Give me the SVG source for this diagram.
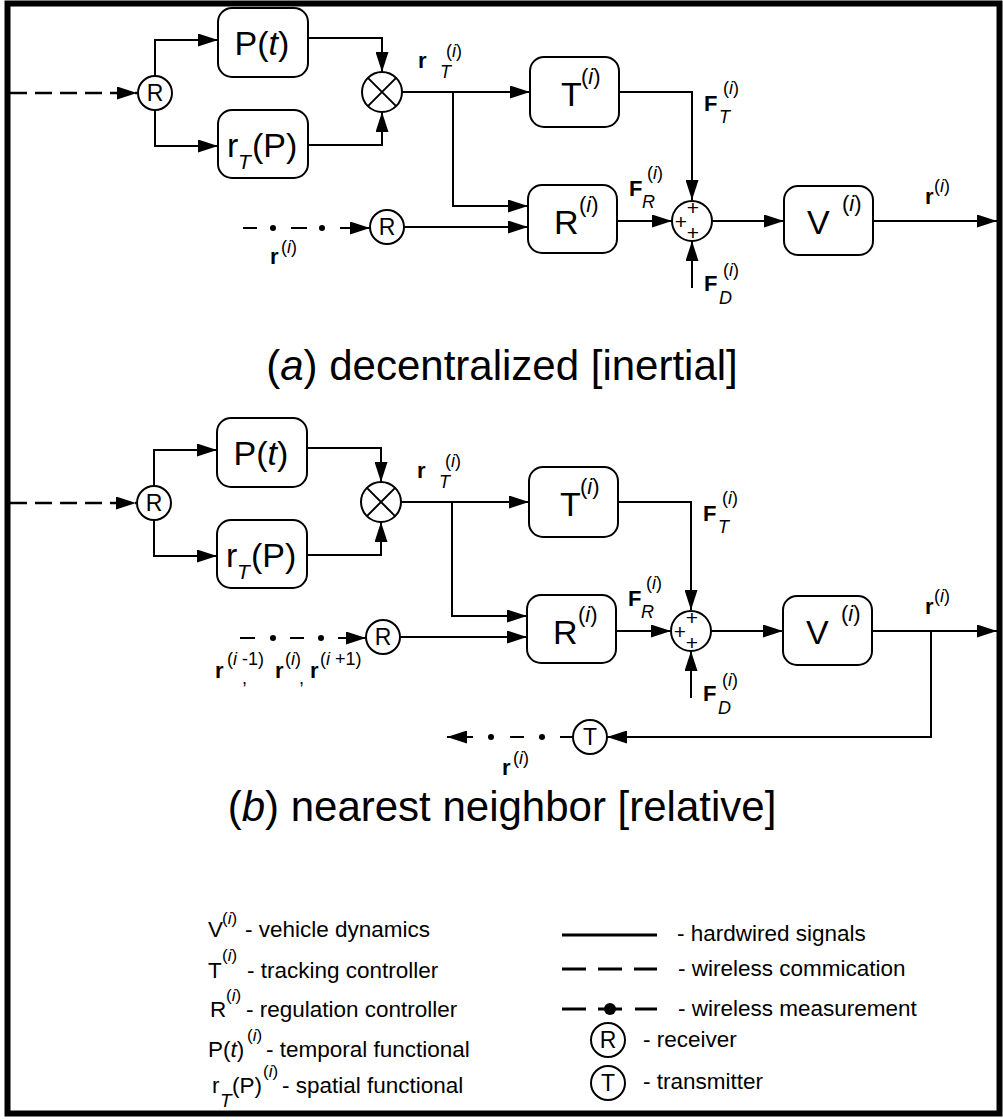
<svg xmlns="http://www.w3.org/2000/svg" width="1003" height="1120" viewBox="0 0 1003 1120">
<style>
text{font-family:"Liberation Sans",Arial,sans-serif;fill:#000}
.box{fill:#fff;stroke:#000;stroke-width:2}
.cir{fill:#fff;stroke:#000;stroke-width:2}
.w{fill:none;stroke:#000;stroke-width:2}
.dash{fill:none;stroke:#000;stroke-width:2.5;stroke-dasharray:17 8}
.big{font-size:34px}
.bsup{font-size:22px}
.cl{font-size:23px;text-anchor:middle}
.lb{font-size:22px;font-weight:bold}
.sup{font-size:18px}
.sub{font-size:18px;font-style:italic}
.it{font-style:italic}
.pl{font-size:21px;text-anchor:middle}
.cap{font-size:42px;text-anchor:middle}
.lg{font-size:22.5px}
.lgs{font-size:17px}
</style>
<defs>
<marker id="ah" markerWidth="20" markerHeight="13" refX="20" refY="6.5" orient="auto" markerUnits="userSpaceOnUse"><path d="M0,0 L20,6.5 L0,13 z" fill="#000"/></marker>
</defs>
<rect x="7.5" y="3.5" width="992" height="1110" fill="#fff" stroke="#000" stroke-width="6"/>

<!-- ===== Part (a) ===== -->
<g id="part-a">
<g id="connectors-a">
<line class="dash" x1="10" y1="93" x2="137" y2="93" marker-end="url(#ah)"/>
<polyline class="w" points="155,76 155,40 218,40" marker-end="url(#ah)"/>
<polyline class="w" points="155,110 155,146 218,146" marker-end="url(#ah)"/>
<polyline class="w" points="308,38 382,38 382,72" marker-end="url(#ah)"/>
<polyline class="w" points="308,145 382,145 382,112" marker-end="url(#ah)"/>
<line class="w" x1="402" y1="92" x2="530" y2="92" marker-end="url(#ah)"/>
<polyline class="w" points="453,92 453,206 528,206" marker-end="url(#ah)"/>
<line class="w" x1="404" y1="227" x2="528" y2="227" marker-end="url(#ah)"/>
<line class="w" x1="243" y1="228" x2="257" y2="228"/>
<circle cx="273" cy="228" r="3"/>
<line class="w" x1="291" y1="228" x2="307" y2="228"/>
<circle cx="322" cy="228" r="3"/>
<line class="w" x1="340" y1="228" x2="370" y2="228" marker-end="url(#ah)"/>
<polyline class="w" points="619,92 692,92 692,200" marker-end="url(#ah)"/>
<line class="w" x1="617" y1="221" x2="672" y2="221" marker-end="url(#ah)"/>
<line class="w" x1="692" y1="288" x2="692" y2="241" marker-end="url(#ah)"/>
<line class="w" x1="712" y1="221" x2="784" y2="221" marker-end="url(#ah)"/>
<line class="w" x1="873" y1="221" x2="997" y2="221" marker-end="url(#ah)"/>
</g>
<g id="a-recv1"><circle class="cir" cx="155" cy="93" r="17"/><text class="cl" x="155" y="101">R</text></g>
<g id="a-P"><rect class="box" x="218" y="8" width="90" height="69" rx="14"/><text class="big" x="262" y="55" text-anchor="middle">P(<tspan class="it">t</tspan>)</text></g>
<g id="a-rT"><rect class="box" x="218" y="110" width="90" height="68" rx="14"/><text class="big" x="227" y="157">r</text><text class="sub" x="238" y="169" style="font-size:21px">T</text><text class="big" x="252" y="157">(P)</text></g>
<g id="a-mult"><circle class="cir" cx="382" cy="92" r="20"/><path class="w" d="M367.9,77.9 L396.1,106.1 M396.1,77.9 L367.9,106.1"/></g>
<g id="a-T"><rect class="box" x="530" y="57" width="89" height="70" rx="14"/><text class="big" x="561" y="106">T</text><text class="bsup" x="581" y="84">(<tspan class="it">i</tspan>)</text></g>
<g id="a-R"><rect class="box" x="528" y="185" width="89" height="68" rx="14"/><text class="big" x="554" y="234">R</text><text class="bsup" x="579" y="212">(<tspan class="it">i</tspan>)</text></g>
<g id="a-recv2"><circle class="cir" cx="387" cy="227" r="17"/><text class="cl" x="387" y="235">R</text></g>
<g id="a-sum"><circle class="cir" cx="692" cy="221" r="20"/><text class="pl" x="693" y="215">+</text><text class="pl" x="681" y="229">+</text><text class="pl" x="693" y="240">+</text></g>
<g id="a-V"><rect class="box" x="784" y="186" width="89" height="69" rx="14"/><text class="big" x="807" y="234">V</text><text class="bsup" x="842" y="211">(<tspan class="it">i</tspan>)</text></g>
<g id="a-labels">
<text class="lb" x="418" y="68">r</text><text class="sup" x="446" y="57">(<tspan class="it">i</tspan>)</text><text class="sub" x="440" y="78">T</text>
<text class="lb" x="704" y="111">F</text><text class="sup" x="723" y="94">(<tspan class="it">i</tspan>)</text><text class="sub" x="719" y="123">T</text>
<text class="lb" x="629" y="196">F</text><text class="sup" x="647" y="179">(<tspan class="it">i</tspan>)</text><text class="sub" x="642" y="208">R</text>
<text class="lb" x="704" y="291">F</text><text class="sup" x="723" y="276">(<tspan class="it">i</tspan>)</text><text class="sub" x="719" y="304">D</text>
<text class="lb" x="925" y="204">r</text><text class="sup" x="934" y="192">(<tspan class="it">i</tspan>)</text>
<text class="lb" x="270" y="264">r</text><text class="sup" x="281" y="253">(<tspan class="it">i</tspan>)</text>
</g>
<text class="cap" x="502" y="380">(<tspan class="it">a</tspan>) decentralized [inertial]</text>
</g>

<!-- ===== Part (b) ===== -->
<g id="part-b">
<g id="connectors-b" transform="translate(-1,410)">
<line class="dash" x1="11" y1="93" x2="137" y2="93" marker-end="url(#ah)"/>
<polyline class="w" points="155,76 155,40 218,40" marker-end="url(#ah)"/>
<polyline class="w" points="155,110 155,146 218,146" marker-end="url(#ah)"/>
<polyline class="w" points="308,38 382,38 382,72" marker-end="url(#ah)"/>
<polyline class="w" points="308,145 382,145 382,112" marker-end="url(#ah)"/>
<line class="w" x1="402" y1="92" x2="530" y2="92" marker-end="url(#ah)"/>
<polyline class="w" points="453,92 453,206 528,206" marker-end="url(#ah)"/>
<line class="w" x1="401" y1="227" x2="528" y2="227" marker-end="url(#ah)"/>
<polyline class="w" points="619,92 692,92 692,200" marker-end="url(#ah)"/>
<line class="w" x1="617" y1="221" x2="672" y2="221" marker-end="url(#ah)"/>
<line class="w" x1="692" y1="288" x2="692" y2="241" marker-end="url(#ah)"/>
<line class="w" x1="712" y1="221" x2="784" y2="221" marker-end="url(#ah)"/>
<line class="w" x1="873" y1="221" x2="998" y2="221" marker-end="url(#ah)"/>
<polyline class="w" points="932,221 932,327 608,327" marker-end="url(#ah)"/>
</g>
<g id="connectors-b2">
<line class="w" x1="240" y1="638" x2="255" y2="638"/>
<circle cx="273" cy="638" r="3"/>
<line class="w" x1="290" y1="638" x2="304" y2="638"/>
<circle cx="321" cy="638" r="3"/>
<line class="w" x1="338" y1="638" x2="366" y2="638" marker-end="url(#ah)"/>
<line class="w" x1="573" y1="737" x2="560" y2="737"/>
<circle cx="542" cy="737" r="3"/>
<line class="w" x1="524" y1="737" x2="510" y2="737"/>
<circle cx="491" cy="737" r="3"/>
<line class="w" x1="473" y1="737" x2="447" y2="737" marker-end="url(#ah)"/>
</g>
<g transform="translate(-1,410)">
<g id="b-recv1"><circle class="cir" cx="155" cy="93" r="17"/><text class="cl" x="155" y="101">R</text></g>
<g id="b-P"><rect class="box" x="218" y="8" width="90" height="69" rx="14"/><text class="big" x="262" y="55" text-anchor="middle">P(<tspan class="it">t</tspan>)</text></g>
<g id="b-rT"><rect class="box" x="218" y="110" width="90" height="68" rx="14"/><text class="big" x="227" y="157">r</text><text class="sub" x="238" y="169" style="font-size:21px">T</text><text class="big" x="252" y="157">(P)</text></g>
<g id="b-mult"><circle class="cir" cx="382" cy="92" r="20"/><path class="w" d="M367.9,77.9 L396.1,106.1 M396.1,77.9 L367.9,106.1"/></g>
<g id="b-T"><rect class="box" x="530" y="57" width="89" height="70" rx="14"/><text class="big" x="561" y="106">T</text><text class="bsup" x="581" y="84">(<tspan class="it">i</tspan>)</text></g>
<g id="b-R"><rect class="box" x="528" y="185" width="89" height="68" rx="14"/><text class="big" x="554" y="234">R</text><text class="bsup" x="579" y="212">(<tspan class="it">i</tspan>)</text></g>
<g id="b-recv2"><circle class="cir" cx="384" cy="227" r="17"/><text class="cl" x="384" y="235">R</text></g>
<g id="b-sum"><circle class="cir" cx="692" cy="221" r="20"/><text class="pl" x="693" y="215">+</text><text class="pl" x="681" y="229">+</text><text class="pl" x="693" y="240">+</text></g>
<g id="b-V"><rect class="box" x="784" y="186" width="89" height="69" rx="14"/><text class="big" x="807" y="234">V</text><text class="bsup" x="842" y="211">(<tspan class="it">i</tspan>)</text></g>
<g id="b-trans"><circle class="cir" cx="591" cy="327" r="17"/><text class="cl" x="591" y="335">T</text></g>
<g id="b-labels">
<text class="lb" x="418" y="68">r</text><text class="sup" x="446" y="57">(<tspan class="it">i</tspan>)</text><text class="sub" x="440" y="78">T</text>
<text class="lb" x="704" y="111">F</text><text class="sup" x="723" y="94">(<tspan class="it">i</tspan>)</text><text class="sub" x="719" y="123">T</text>
<text class="lb" x="629" y="196">F</text><text class="sup" x="647" y="179">(<tspan class="it">i</tspan>)</text><text class="sub" x="642" y="208">R</text>
<text class="lb" x="704" y="291">F</text><text class="sup" x="723" y="276">(<tspan class="it">i</tspan>)</text><text class="sub" x="719" y="304">D</text>
<text class="lb" x="926" y="204">r</text><text class="sup" x="935" y="192">(<tspan class="it">i</tspan>)</text>
</g>
</g>
<g id="b-labels2">
<text class="lb" x="215" y="678">r</text><text class="sup" x="227" y="665">(<tspan class="it">i</tspan> -1)</text><text class="sup" x="242" y="684">,</text>
<text class="lb" x="275" y="678">r</text><text class="sup" x="285" y="665">(<tspan class="it">i</tspan>)</text><text class="sup" x="299" y="684">,</text>
<text class="lb" x="310" y="678">r</text><text class="sup" x="320" y="665">(<tspan class="it">i</tspan> +1)</text>
<text class="lb" x="502" y="775">r</text><text class="sup" x="513" y="764">(<tspan class="it">i</tspan>)</text>
</g>
<text class="cap" x="502" y="821">(<tspan class="it">b</tspan>) nearest neighbor [relative]</text>
</g>

<!-- ===== Legend ===== -->
<g id="legend">
<text class="lg" x="208" y="937">V</text><text class="lgs" x="222" y="924">(<tspan class="it">i</tspan>)</text><text class="lg" x="245" y="937">- vehicle dynamics</text>
<text class="lg" x="208" y="978">T</text><text class="lgs" x="222" y="961">(<tspan class="it">i</tspan>)</text><text class="lg" x="247" y="978">- tracking controller</text>
<text class="lg" x="210" y="1017">R</text><text class="lgs" x="226" y="1001">(<tspan class="it">i</tspan>)</text><text class="lg" x="246" y="1017">- regulation controller</text>
<text class="lg" x="208" y="1057">P(<tspan class="it">t</tspan>)</text><text class="lgs" x="247" y="1041">(<tspan class="it">i</tspan>)</text><text class="lg" x="266" y="1057">- temporal functional</text>
<text class="lg" x="212" y="1093">r</text><text class="lgs" x="220" y="1107" font-style="italic" style="font-size:19px">T</text><text class="lg" x="232" y="1093">(P)</text><text class="lgs" x="263" y="1077">(<tspan class="it">i</tspan>)</text><text class="lg" x="282" y="1093">- spatial functional</text>

<line x1="562" y1="935" x2="657" y2="935" stroke="#000" stroke-width="3"/>
<text class="lg" x="677" y="941">- hardwired signals</text>
<line x1="562" y1="969" x2="657" y2="969" stroke="#000" stroke-width="3" stroke-dasharray="24 12"/>
<text class="lg" x="678" y="976">- wireless commication</text>
<line x1="562" y1="1009" x2="586" y2="1009" stroke="#000" stroke-width="3"/>
<line x1="598" y1="1009" x2="622" y2="1009" stroke="#000" stroke-width="3"/>
<circle cx="610" cy="1009" r="6"/>
<line x1="635" y1="1009" x2="657" y2="1009" stroke="#000" stroke-width="3"/>
<text class="lg" x="678" y="1016">- wireless measurement</text>
<circle class="cir" cx="608" cy="1040" r="17"/><text class="cl" x="608" y="1048">R</text>
<text class="lg" x="643" y="1047">- receiver</text>
<circle class="cir" cx="608" cy="1083" r="17"/><text class="cl" x="608" y="1091">T</text>
<text class="lg" x="643" y="1089">- transmitter</text>
</g>
</svg>
